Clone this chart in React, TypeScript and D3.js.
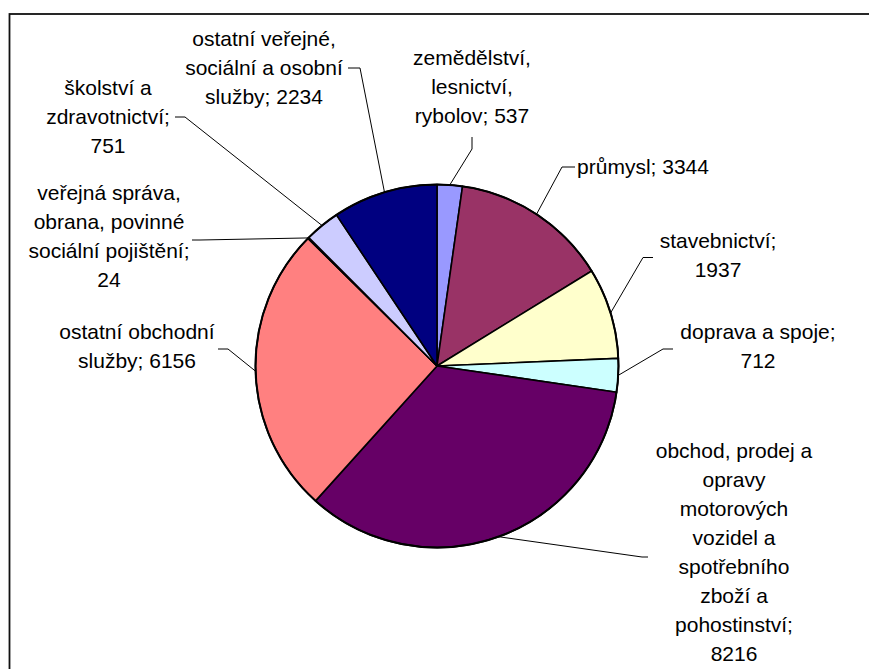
import { useMemo } from "react";
import * as d3 from "d3";

// Odvětví a hodnoty (po směru hodinových ručiček od 12 hodin)
const sectors = [
  "zemědělství, lesnictví, rybolov",
  "průmysl",
  "stavebnictví",
  "doprava a spoje",
  "obchod, prodej a opravy motorových vozidel a spotřebního zboží a pohostinství",
  "ostatní obchodní služby",
  "veřejná správa, obrana, povinné sociální pojištění",
  "školství a zdravotnictví",
  "ostatní veřejné, sociální a osobní služby",
];
const values = [537, 3344, 1937, 712, 8216, 6156, 24, 751, 2234];
const colors = ["#9999FF", "#993366", "#FFFFCC", "#CCFFFF", "#660066", "#FF8080", "#0066CC", "#CCCCFF", "#000080"];

// zalomení popisků ({v} = hodnota)
const labelLines = [
  ["zemědělství,", "lesnictví,", "rybolov; {v}"],
  ["průmysl; {v}"],
  ["stavebnictví;", "{v}"],
  ["doprava a spoje;", "{v}"],
  ["obchod, prodej a", "opravy", "motorových", "vozidel a", "spotřebního", "zboží a", "pohostinství;", "{v}"],
  ["ostatní obchodní", "služby; {v}"],
  ["veřejná správa,", "obrana, povinné", "sociální pojištění;", "{v}"],
  ["školství a", "zdravotnictví;", "{v}"],
  ["ostatní veřejné,", "sociální a osobní", "služby; {v}"],
];

// label layout: text center, first baseline, leader start + elbow
const labelLayout = [
  { cx: 472, y: 65, p0: [472, 137], p1: [472, 149] },
  { cx: 643, y: 174, p0: [575, 167], p1: [562, 167] },
  { cx: 718, y: 248, p0: [653, 257.5], p1: [643, 257.5] },
  { cx: 758, y: 339, p0: [673, 349], p1: [663, 349] },
  { cx: 734, y: 458, p0: [648, 557], p1: [642, 557] },
  { cx: 137, y: 339, p0: [218, 349], p1: [228, 349] },
  { cx: 109, y: 200, p0: [192, 240], p1: [200, 240] },
  { cx: 108, y: 95, p0: [175, 117], p1: [185, 117] },
  { cx: 264, y: 45.5, p0: [348, 68], p1: [360, 68] },
];

const W = 869;
const H = 669;
const CX = 437;
const CY = 366;
const R = 181.5;
const LINE_H = 29;
const FONT = "'Liberation Sans', Arial, sans-serif";

export default function App() {
  const slices = useMemo(() => {
    const pie = d3
      .pie<number>()
      .sort(null)
      .startAngle(0)
      .endAngle(2 * Math.PI);
    return pie(values);
  }, []);

  const arc = d3.arc<d3.PieArcDatum<number>>().innerRadius(0).outerRadius(R);

  return (
    <div style={{ position: "absolute", left: 0, top: 0 }}>
      <svg width={W} height={H} style={{ display: "block", background: "#fff" }}>
        <rect x={9.5} y={14} width={W + 10} height={H + 10} fill="#fff" stroke="#111" strokeWidth={1.8} />
        <g transform={`translate(${CX},${CY})`}>
          {slices.map((s, i) => (
            <path key={sectors[i]} d={arc(s) ?? ""} fill={colors[i]} stroke="#000" strokeWidth={1.6} strokeLinejoin="round" />
          ))}
          <circle r={R} fill="none" stroke="#000" strokeWidth={2} />
        </g>
        {slices.map((s, i) => {
          const lay = labelLayout[i];
          const mid = (s.startAngle + s.endAngle) / 2;
          const ex = CX + R * Math.sin(mid);
          const ey = CY - R * Math.cos(mid);
          const pts: [number, number][] = [
            [lay.p0[0], lay.p0[1]],
            [lay.p1[0], lay.p1[1]],
            [ex, ey],
          ];
          return (
            <path
              key={"l" + i}
              d={d3.line()(pts) ?? ""}
              fill="none"
              stroke="#000"
              strokeWidth={1}
            />
          );
        })}
        {labelLines.map((lines, i) => {
          const lay = labelLayout[i];
          return (
            <text
              key={"t" + i}
              x={lay.cx}
              y={lay.y}
              textAnchor="middle"
              fontFamily={FONT}
              fontSize={21}
              fill="#000"
            >
              {lines.map((ln, j) => (
                <tspan key={j} x={lay.cx} y={lay.y + j * LINE_H}>
                  {ln.replace("{v}", String(values[i]))}
                </tspan>
              ))}
            </text>
          );
        })}
      </svg>
    </div>
  );
}
